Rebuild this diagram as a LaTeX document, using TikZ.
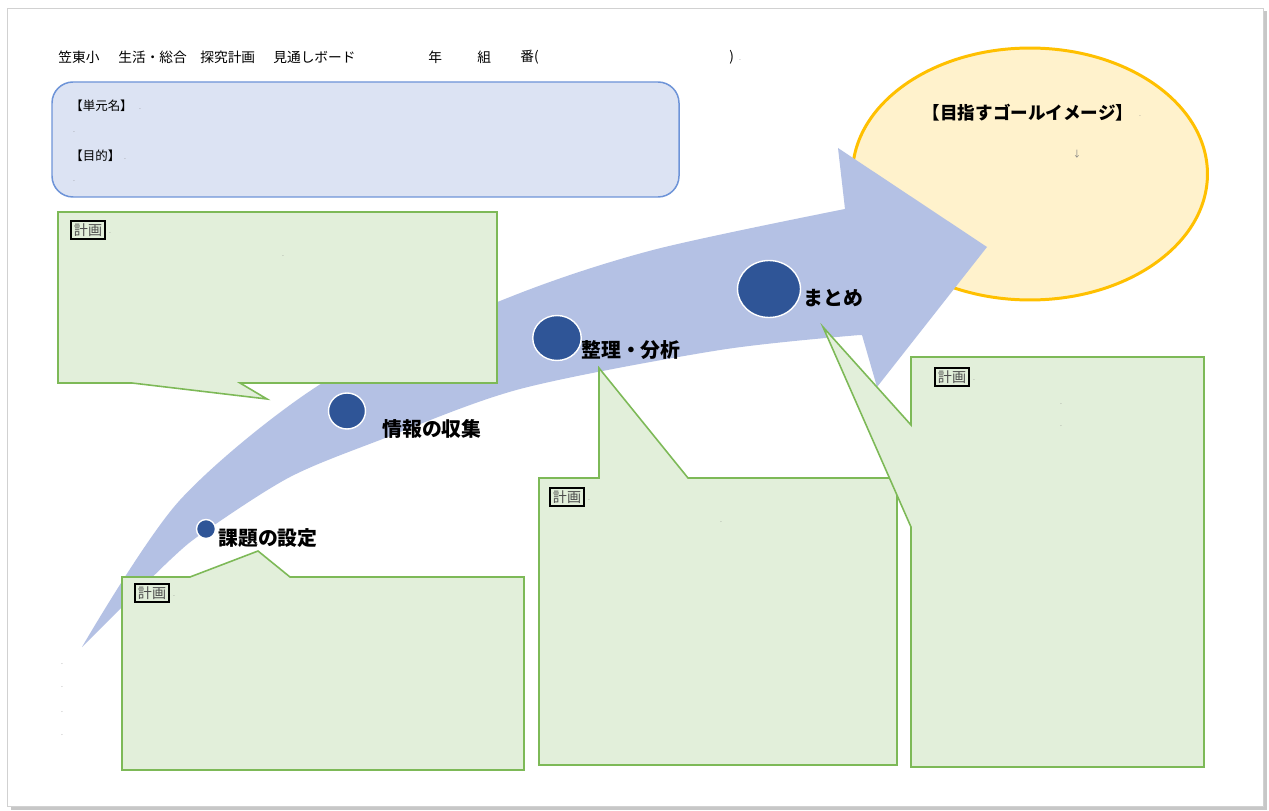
\documentclass[tikz,border=0pt]{standalone}
\usepackage{fontspec}
\setmainfont{Noto Sans CJK JP}
\usetikzlibrary{shapes.geometric}
\definecolor{arrowblue}{HTML}{B4C1E4}
\definecolor{dotblue}{HTML}{2F5597}
\definecolor{boxgreen}{HTML}{E2EFDA}
\definecolor{linegreen}{HTML}{7DB957}
\definecolor{goalfill}{HTML}{FFF2CC}
\definecolor{goalline}{HTML}{FFC000}
\definecolor{unitfill}{HTML}{DCE3F3}
\definecolor{unitline}{HTML}{6E94D8}
\begin{document}
\begin{tikzpicture}[x=0.02cm,y=-0.02cm,
  callout/.style={fill=boxgreen, draw=linegreen, line width=0.9pt, line join=miter},
  stagedot/.style={ellipse, fill=dotblue, draw=white, line width=0.8pt, inner sep=0pt},
  stagelabel/.style={anchor=west, inner sep=0pt, font=\fontsize{11.3}{12}\selectfont\bfseries},
  plantag/.style={draw=black, line width=1.2pt, inner sep=1.6pt, text=black!70, font=\fontsize{8}{8}\selectfont},
  parmark/.style={inner sep=0pt, text=gray, font=\fontsize{4}{4}\selectfont},
  headtext/.style={anchor=west, inner sep=0pt, font=\fontsize{7.8}{8}\selectfont},
  unittext/.style={anchor=west, inner sep=0pt, font=\fontsize{7.1}{8}\selectfont}]
\useasboundingbox (0,0) rectangle (1269,811);
\fill[white] (0,0) rectangle (1269,811);
% page frame with shadow
\fill[black!22] (11,11) rectangle (1267,810);
\fill[white, draw=black!18, line width=0.4pt] (7,8) rectangle (1263,806);

% heading
\node[headtext] (h1) at (58,57) {笠東小};
\node[headtext] (h2) at (118,57) {生活・総合};
\node[headtext] (h3) at (200,57) {探究計画};
\node[headtext] (h4) at (273,57) {見通しボード};
\node[headtext] (h5) at (428,57) {年};
\node[headtext] (h6) at (477,57) {組};
\node[headtext] (h7) at (520,57) {番(};
\node[headtext] (h8) at (729,57) {)};
\node[parmark] (h9) at (740,60) {.};

% unit box
\draw[fill=unitfill, draw=unitline, line width=0.85pt, rounded corners=0.42cm] (52,82) rectangle (679,197);
\node[unittext] (u1) at (70,106) {【単元名】};
\node[parmark] (u1m) at (140,109) {.};
\node[parmark] (u2) at (74,132) {.};
\node[unittext] (u3) at (70,156) {【目的】};
\node[parmark] (u3m) at (125,159) {.};
\node[parmark] (u4) at (74,181) {.};

% goal ellipse
\node[ellipse, fill=goalfill, draw=goalline, line width=1.7pt, minimum width=7.1cm, minimum height=5.04cm, inner sep=0pt] (goal) at (1030,174) {};
\node[inner sep=0pt, font=\fontsize{10}{10}\selectfont\bfseries] (goaltext) at (1028,113) {【目指すゴールイメージ】};
\node[parmark] (goalm) at (1140,116) {.};
\node[inner sep=0pt, text=gray, font=\fontsize{5}{5}\selectfont] (goalarrow) at (1077,154) {↓};

% big curved arrow
\fill[arrowblue] plot[smooth] coordinates {(82,647) (180,500) (327,380) (510,297) (653,250) (845,209)}
  -- (838,148) -- (987,247) -- (877,387) -- (862,335)
  -- plot[smooth] coordinates {(860,335) (720,350) (520,389) (380,440) (290,477) (207,530) (170,560) (82,647)} -- cycle;

% callout 1 (top-left)
\draw[callout] (58,212) -- (497,212) -- (497,383) -- (240,383) -- (267,399) -- (132,383) -- (58,383) -- cycle;
% callout 2 (bottom-left)
\draw[callout] (122,577) -- (190,577) -- (258,551) -- (290,577) -- (524,577) -- (524,770) -- (122,770) -- cycle;
% callout 3 (middle)
\draw[callout] (539,478) -- (599,478) -- (599,368) -- (688,478) -- (897,478) -- (897,765) -- (539,765) -- cycle;
% callout 4 (right)
\draw[callout] (911,357) -- (1204,357) -- (1204,767) -- (911,767) -- (911,527) -- (823,327) -- (911,425) -- cycle;

% stage dots
\node[stagedot, minimum width=0.38cm, minimum height=0.38cm] (d1) at (206,529) {};
\node[stagedot, minimum width=0.74cm, minimum height=0.72cm] (d2) at (347,411) {};
\node[stagedot, minimum width=0.97cm, minimum height=0.9cm] (d3) at (557,338) {};
\node[stagedot, minimum width=1.26cm, minimum height=1.14cm] (d4) at (769,289) {};

\node[stagelabel] (l1) at (218,538) {課題の設定};
\node[stagelabel] (l2) at (382,429) {情報の収集};
\node[stagelabel] (l3) at (581,350) {整理・分析};
\node[stagelabel] (l4) at (803,298) {まとめ};

% plan tags
\node[plantag] (p1) at (88,230) {計画};
\node[parmark] (p1m) at (110,233) {.};
\node[plantag] (p2) at (152,593) {計画};
\node[parmark] (p2m) at (174,596) {.};
\node[plantag] (p3) at (567,497) {計画};
\node[parmark] (p3m) at (589,500) {.};
\node[plantag] (p4) at (952,377) {計画};
\node[parmark] (p4m) at (974,380) {.};

% paragraph marks
\node[parmark] (m1) at (283,256) {.};
\node[parmark] (m2) at (721,522) {.};
\node[parmark] (m3) at (1061,404) {.};
\node[parmark] (m4) at (1061,426) {.};
\node[parmark] (m5) at (62,664) {.};
\node[parmark] (m6) at (62,687) {.};
\node[parmark] (m7) at (62,712) {.};
\node[parmark] (m8) at (62,735) {.};
\end{tikzpicture}
\end{document}
